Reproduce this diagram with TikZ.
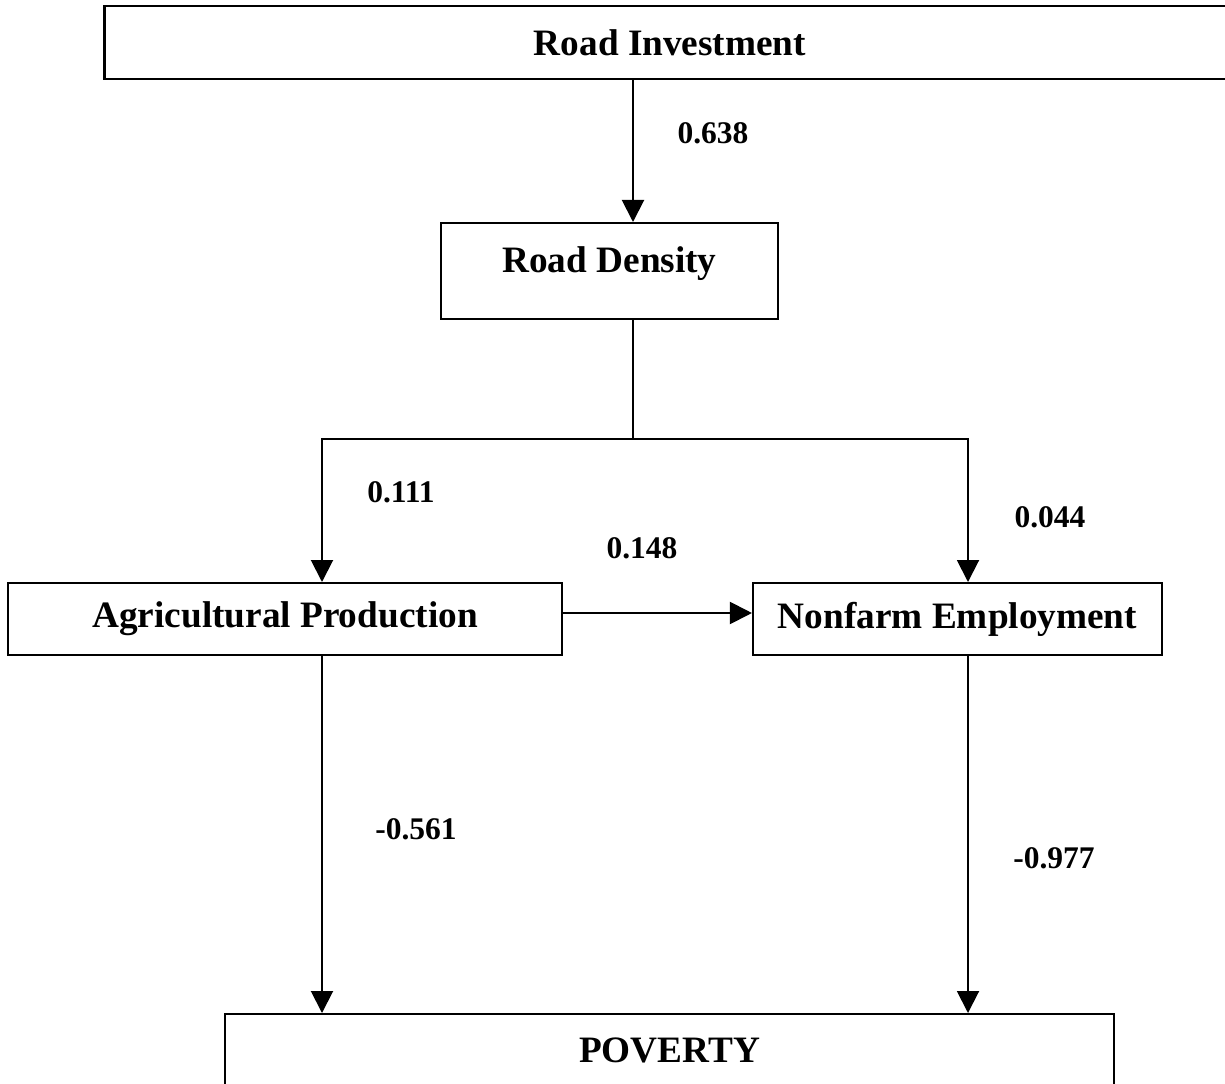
\documentclass[tikz,border=0pt]{standalone}
\usepackage{fontspec}
\setmainfont{Liberation Serif}
\usepackage{tikz}
\usetikzlibrary{arrows.meta}
\usetikzlibrary{calc}

\tikzset{
  box/.style={draw,line width=1.4pt,inner sep=0pt,font=\fontsize{26.5}{30}\selectfont\bfseries},
  val/.style={inner sep=0pt,font=\fontsize{22.4}{26}\selectfont\bfseries},
  arr/.style={line width=1.4pt,-{Triangle[length=0.55cm,width=0.55cm]}},
}

\begin{document}
\begin{tikzpicture}[x=0.025cm,y=-0.025cm]
        \clip (0,0) rectangle (1225,1084);
        \node[box,line width=2pt,minimum width=28.25cm,minimum height=1.825cm] (inv) at (670,42.5) {Road Investment};
        \node[box,minimum width=8.425cm,minimum height=2.4cm,text depth=1.6em] (dens) at (609.5,271) {Road Density};
        \node[box,minimum width=13.85cm,minimum height=1.8cm] (agri) at (285,619) {Agricultural Production};
        \node[box,minimum width=10.225cm,minimum height=1.8cm] (nonf) at (957.5,619) {Nonfarm Employment};
        \node[box,minimum width=22.225cm,minimum height=1.8cm] (pov) at (669.5,1050) {POVERTY};
        \coordinate (split) at (633,439);
        \coordinate (lt) at (322,439);
        \coordinate (rt) at (968,439);
        \draw[arr] (split |- inv.south)--(split |- dens.north);
        \draw[line width=1.4pt] (split |- dens.south)--(split);
        \draw[arr] (split)--(lt)--(lt |- agri.north);
        \draw[arr] (split)--(rt)--(rt |- nonf.north);
        \draw[arr] ([yshift=0.15cm]agri.east)--([yshift=0.15cm]nonf.west);
        \draw[arr] (lt |- agri.south)--(lt |- pov.north);
        \draw[arr] (rt |- nonf.south)--(rt |- pov.north);
        \node[val] (w1) at (713,133) {0.638};
        \node[val] (w2) at (401,492) {0.111};
        \node[val] (w3) at (642,548) {0.148};
        \node[val] (w4) at (1050,517) {0.044};
        \node[val] (w5) at (416,829) {-0.561};
        \node[val] (w6) at (1054,858) {-0.977};
    \end{tikzpicture}
\end{document}
